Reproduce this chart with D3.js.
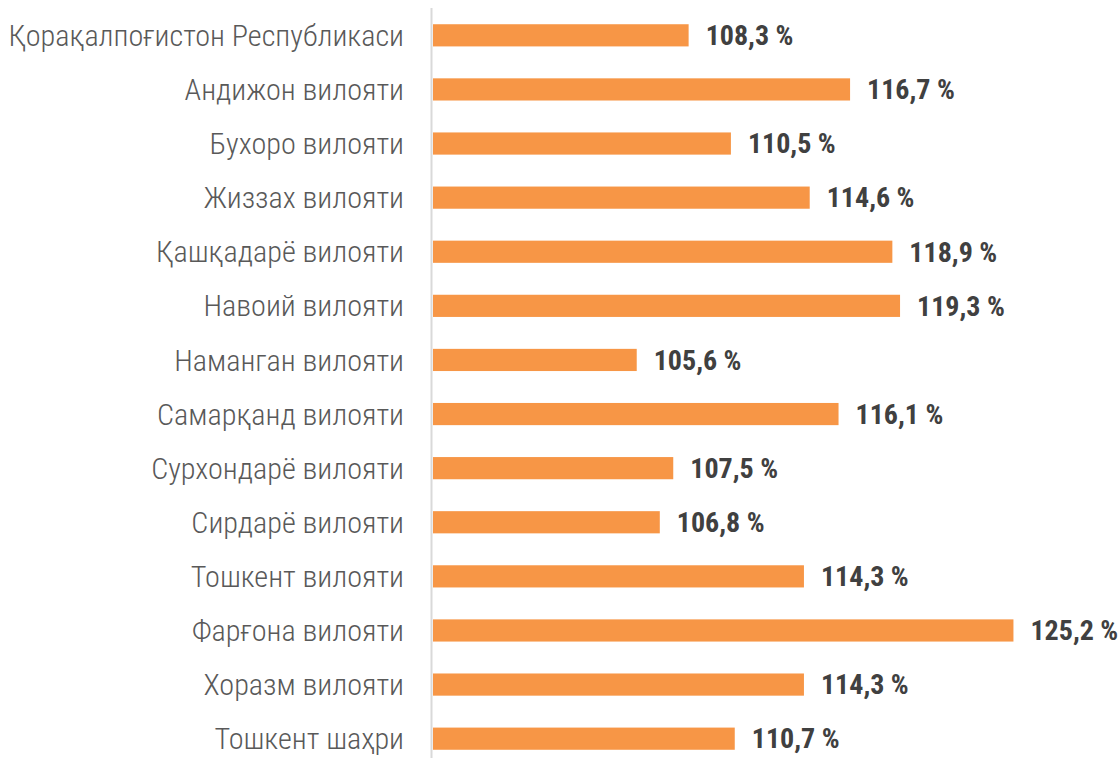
<!DOCTYPE html>
<html>
<head>
<meta charset="utf-8">
<script src="https://cdn.jsdelivr.net/npm/d3@7"></script>
<style>
  body { margin: 0; background: #fff; }
  text { font-family: 'Roboto Condensed', Roboto, sans-serif; }
</style>
</head>
<body>
<div id="chart"></div>
<script>
// DATA
const regions = [
  'Қорақалпоғистон Республикаси',
  'Андижон вилояти',
  'Бухоро вилояти',
  'Жиззах вилояти',
  'Қашқадарё вилояти',
  'Навоий вилояти',
  'Наманган вилояти',
  'Самарқанд вилояти',
  'Сурхондарё вилояти',
  'Сирдарё вилояти',
  'Тошкент вилояти',
  'Фарғона вилояти',
  'Хоразм вилояти',
  'Тошкент шаҳри'
];
const values = [108.3, 116.7, 110.5, 114.6, 118.9, 119.3, 105.6, 116.1, 107.5, 106.8, 114.3, 125.2, 114.3, 110.7];

let width = 1120;
let height = 758;
let margin = { top: 8, left: 433 };

let data = regions.map((r, i) => ({ name: r, value: values[i] }));

let xScale = d3.scaleLinear()
  .domain([95, 130])
  .range([margin.left, margin.left + 35 * 19.22]);

let yScale = d3.scaleBand()
  .domain(regions)
  .range([8, 766])
  .paddingInner(0.59)
  .paddingOuter(0.3);

let svg = d3.select('#chart')
  .append('svg')
  .attr('width', width)
  .attr('height', height);

// axis line
svg.append('line')
  .attr('x1', margin.left - 1.5).attr('x2', margin.left - 1.5)
  .attr('y1', 8).attr('y2', height)
  .attr('stroke', '#d9d9d9')
  .attr('stroke-width', 2);

svg.selectAll('.bar')
  .data(data)
  .join('rect')
  .attr('class', 'bar')
  .attr('x', xScale(95))
  .attr('y', d => yScale(d.name))
  .attr('width', d => xScale(d.value) - xScale(95))
  .attr('height', yScale.bandwidth())
  .attr('fill', '#f79646');

// category labels
svg.selectAll('.cat')
  .data(data)
  .join('text')
  .attr('class', 'cat')
  .attr('x', 404)
  .attr('y', d => yScale(d.name) + yScale.bandwidth() / 2)
  .attr('text-anchor', 'end')
  .attr('dy', '0.35em')
  .attr('font-size', 30.2)
  .attr('font-weight', 300)
  .attr('fill', '#595959')
  .text(d => d.name);

// value labels
svg.selectAll('.val')
  .data(data)
  .join('text')
  .attr('class', 'val')
  .attr('x', d => xScale(d.value) + 17)
  .attr('y', d => yScale(d.name) + yScale.bandwidth() / 2)
  .attr('dy', '0.35em')
  .attr('font-size', 28)
  .attr('font-weight', 'bold')
  .attr('fill', '#404040')
  .text(d => d.value.toFixed(1).replace('.', ',') + ' %');
</script>
</body>
</html>
